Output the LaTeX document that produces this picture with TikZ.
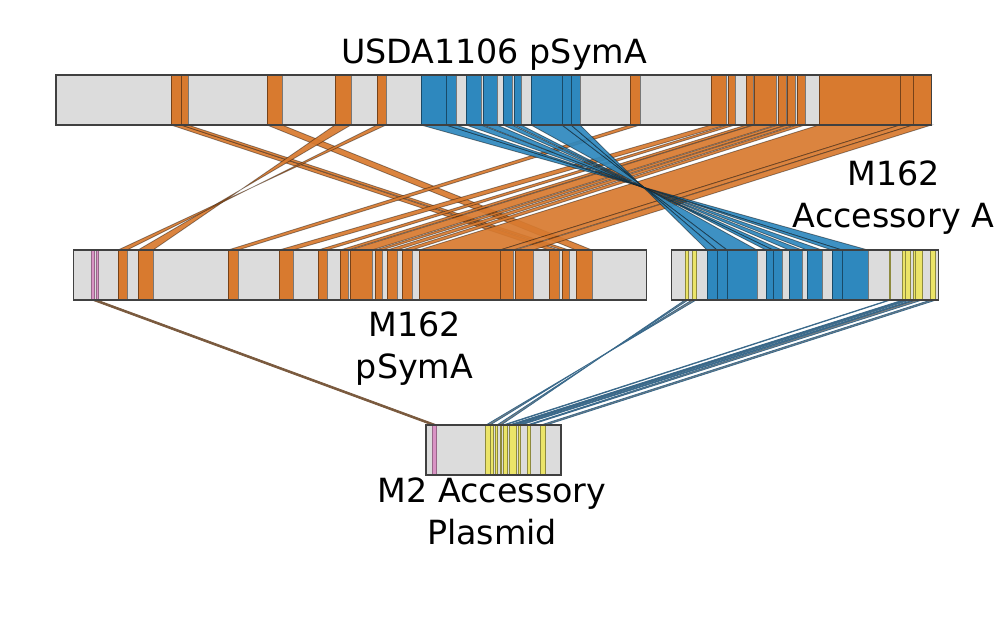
\documentclass[tikz,border=0pt]{standalone}
\usepackage{fontspec}
\setmainfont{DejaVu Sans}
\definecolor{barg}{HTML}{DCDCDC}
\definecolor{edgec}{HTML}{404040}
\definecolor{orng}{HTML}{D87A2F}
\definecolor{blu}{HTML}{2E88BE}
\definecolor{yel}{HTML}{EBE468}
\definecolor{olv}{HTML}{8E8A3E}
\definecolor{pnk}{HTML}{D993C4}
\definecolor{brn}{HTML}{7A5A3E}
\definecolor{lnk}{HTML}{3A6A8C}
\newcommand\yA{0}
\newcommand\yB{0}
\newcommand\setys[2]{\renewcommand\yA{#1}\renewcommand\yB{#2}}
\newcommand\bd[5]{\path[#1] (#2,\yA) -- (#3,\yA) -- (#5,\yB) -- (#4,\yB) -- cycle;}
\newcommand\sg[3]{\path[#1] (#2,\yA) rectangle (#3,\yB);}
\begin{document}
\begin{tikzpicture}[x=1pt,y=-1pt,
  barfill/.style={fill=barg},
  barline/.style={draw=edgec,line width=1.4pt},
  oseg/.style={fill=orng,draw=black,draw opacity=0.45,line width=0.9pt},
  bseg/.style={fill=blu,draw=black,draw opacity=0.45,line width=0.9pt},
  yseg/.style={fill=yel,draw=olv,line width=0.9pt},
  pseg/.style={fill=pnk,draw=pnk!70!black,line width=0.8pt},
  oband/.style={fill=orng,fill opacity=0.92,draw=black,draw opacity=0.4,line width=0.8pt},
  bband/.style={fill=blu,fill opacity=0.92,draw=black,draw opacity=0.45,line width=0.8pt},
  lband/.style={fill=black,fill opacity=0.5,draw=lnk,line width=0.8pt},
  brband/.style={fill=brn,draw=brn,line width=0.8pt},
  lbl/.style={font=\fontsize{33.3}{41.7}\selectfont,align=center,inner sep=0pt}
]
\useasboundingbox[fill=white] (0,0) rectangle (1000,625);

% ---- bands: USDA1106 pSymA -> M162 pSymA (orange)
\setys{125}{250}
\bd{oband}{171}{181}{549}{559}
\bd{oband}{181}{188}{562}{569}
\bd{oband}{267}{282}{576}{592}
\bd{oband}{335}{351}{153}{138}
\bd{oband}{377}{386}{127}{118}
\bd{oband}{630}{640}{228}{238}
\bd{oband}{711}{726}{279}{293}
\bd{oband}{728}{735}{318}{327}
\bd{oband}{746}{753}{340}{348}
\bd{oband}{754}{776}{350}{372}
\bd{oband}{778}{786}{375}{382}
\bd{oband}{787}{795}{387}{397}
\bd{oband}{797}{805}{402}{412}
\bd{oband}{819}{900}{419}{500}
\bd{oband}{900}{913}{500}{513}
\bd{oband}{913}{931.5}{515}{533}
% ---- bands: USDA1106 pSymA -> M162 Accessory A (blue, reversed)
\bd{bband}{421}{446}{868}{842}
\bd{bband}{446}{456}{842}{832}
\bd{bband}{466}{481}{822}{807}
\bd{bband}{483}{497}{802}{789}
\bd{bband}{503}{512}{782}{773}
\bd{bband}{514}{521}{773}{766}
\bd{bband}{531}{562}{757}{727}
\bd{bband}{562}{571}{727}{717}
\bd{bband}{571}{580}{717}{707}
% ---- links to M2 Accessory Plasmid
\setys{300}{425}
\bd{brband}{92}{97}{432}{437}
\bd{lband}{685}{688}{501}{497}
\bd{lband}{692}{696}{490}{486}
\bd{lband}{889}{890.5}{503}{505}
\bd{lband}{903}{905}{509}{512}
\bd{lband}{906}{910}{512}{516}
\bd{lband}{913}{915}{518}{521}
\bd{lband}{915}{922}{527}{530}
\bd{lband}{931}{936}{541}{546}

% ---- top bar
\setys{75}{125}
\sg{barfill}{56}{931.5}
\sg{oseg}{171}{181}\sg{oseg}{181}{188}\sg{oseg}{267}{282}\sg{oseg}{335}{351}\sg{oseg}{377}{386}
\sg{bseg}{421}{446}\sg{bseg}{446}{456}\sg{bseg}{466}{481}\sg{bseg}{483}{497}
\sg{bseg}{503}{512}\sg{bseg}{514}{521}\sg{bseg}{531}{562}\sg{bseg}{562}{571}\sg{bseg}{571}{580}
\sg{oseg}{630}{640}\sg{oseg}{711}{726}\sg{oseg}{728}{735}\sg{oseg}{746}{753}\sg{oseg}{754}{776}
\sg{oseg}{778}{786}\sg{oseg}{787}{795}\sg{oseg}{797}{805}\sg{oseg}{819}{900}\sg{oseg}{900}{913}\sg{oseg}{913}{931.5}
\node[barline,draw,fill=none,inner sep=0pt,minimum width=875.5pt,minimum height=50pt] (barTop) at (493.75,100) {};

% ---- middle left bar
\setys{250}{300}
\sg{barfill}{73.5}{646.5}
\sg{pseg}{91.7}{94.5}\sg{pseg}{96}{98}
\sg{oseg}{118}{127}\sg{oseg}{138}{153}\sg{oseg}{228}{238}\sg{oseg}{279}{293}\sg{oseg}{318}{327}
\sg{oseg}{340}{348}\sg{oseg}{350}{372}\sg{oseg}{375}{382}\sg{oseg}{387}{397}\sg{oseg}{402}{412}
\sg{oseg}{419}{500}\sg{oseg}{500}{513}\sg{oseg}{515}{533}\sg{oseg}{549}{559}\sg{oseg}{562}{569}\sg{oseg}{576}{592}
\node[barline,draw,fill=none,inner sep=0pt,minimum width=573pt,minimum height=50pt] (barMidL) at (360,275) {};

% ---- middle right bar
\sg{barfill}{671.5}{938.5}
\sg{yseg}{685}{688.5}\sg{yseg}{692.5}{696}
\sg{bseg}{707}{717}\sg{bseg}{717}{727}\sg{bseg}{727}{757}\sg{bseg}{766}{773}\sg{bseg}{773}{782}
\sg{bseg}{789}{802}\sg{bseg}{807}{822}\sg{bseg}{832}{842}\sg{bseg}{842}{868}
\sg{yseg}{889}{890.5}\sg{yseg}{902.7}{905}\sg{yseg}{905.7}{910}\sg{yseg}{913}{915}\sg{yseg}{915}{922.3}\sg{yseg}{930.7}{935.7}
\node[barline,draw,fill=none,inner sep=0pt,minimum width=267pt,minimum height=50pt] (barMidR) at (805,275) {};

% ---- bottom bar
\setys{425}{475}
\sg{barfill}{426}{561}
\sg{pseg}{432}{436.7}
\sg{yseg}{485}{490}\sg{yseg}{490.7}{493.3}\sg{yseg}{495}{497.3}\sg{yseg}{500}{501.7}
\sg{yseg}{503.3}{507.3}\sg{yseg}{509.3}{516}\sg{yseg}{518.3}{520.7}\sg{yseg}{527.3}{530}\sg{yseg}{540.7}{545.7}
\node[barline,draw,fill=none,inner sep=0pt,minimum width=135pt,minimum height=50pt] (barBot) at (493.5,450) {};

% ---- labels
\node[lbl,anchor=base] (lTop) at (494,63) {USDA1106 pSymA};
\node[lbl,anchor=north] (lMidR) at (893.5,160.7) {M162\\Accessory A};
\node[lbl,anchor=north] (lMidL) at (414.5,311.7) {M162\\pSymA};
\node[lbl,anchor=north] (lBot) at (492,478) {M2 Accessory\\Plasmid};
\end{tikzpicture}
\end{document}
